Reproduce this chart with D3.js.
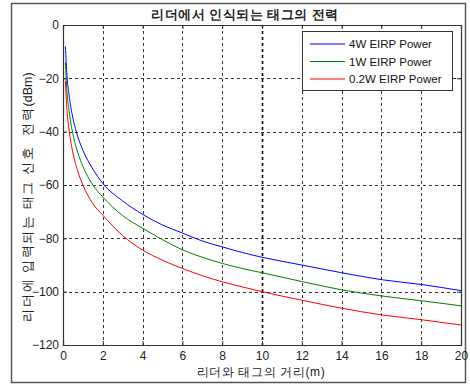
<!DOCTYPE html>
<html>
<head>
<meta charset="utf-8">
<script src="https://cdn.jsdelivr.net/npm/d3@7"></script>
<style>
  body { margin: 0; background: #fff; }
  text { font-family: "Liberation Sans", Arial, sans-serif; }
</style>
</head>
<body>
<svg id="chart" width="470" height="386"></svg>
<script>
const title = '리더에서 인식되는 태그의 전력';
const xLabel = '리더와 태그의 거리(m)';
const yLabelKo = '리더에 입력되는 태그 신호  전력';
const yLabelUnit = '(dBm)';

// distance (m)
const distance = [0.12, 0.2, 0.3, 0.5, 0.75, 1, 1.5, 2, 3, 4, 5, 6, 7, 8, 9, 10, 12, 14, 16, 18, 20];
// received power (dBm)
const power4W  = [-8, -19, -26, -35, -42, -47, -54, -59.4, -66, -71, -75, -78, -81, -83.2, -85.3, -87.1, -90, -92.9, -95.5, -97.3, -99.6];
const power1W  = [-14, -25, -32, -41, -48, -53, -60, -64.5, -71.5, -76.2, -80.5, -84.3, -87.1, -89.4, -91.3, -92.9, -96.2, -99.3, -101.6, -103.4, -105.3];
const power02W = [-21, -32, -39, -48, -55, -60, -67, -71.3, -79, -84.4, -88.2, -91.3, -94, -96.3, -98.2, -100, -103.2, -106.2, -108.7, -110.5, -112.5];

const seriesNames = ['4W EIRP Power', '1W EIRP Power', '0.2W EIRP Power'];
const seriesColors = ['#0000ff', '#008000', '#ff0000'];

const xTicks = [0, 2, 4, 6, 8, 10, 12, 14, 16, 18, 20];
const yTicks = [0, -20, -40, -60, -80, -100, -120];

function draw() {
  const svg = d3.select('#chart');

  // outer frame
  svg.append('rect')
    .attr('x', 11.5).attr('y', 3.5)
    .attr('width', 454).attr('height', 379)
    .attr('fill', '#fff')
    .attr('stroke', '#555').attr('stroke-width', 1.5);

  const left = 63, right = 461, top = 25, bottom = 345;
  const x = d3.scaleLinear().domain([0, 20]).range([left, right]);
  const y = d3.scaleLinear().domain([-120, 0]).range([bottom, top]);

  svg.append('rect')
    .attr('x', left).attr('y', top)
    .attr('width', right - left).attr('height', bottom - top)
    .attr('fill', '#fff');

  // grid
  const grid = svg.append('g').attr('stroke', '#000').attr('stroke-dasharray', '3,3');
  grid.selectAll('.vg').data(xTicks.slice(1, -1)).join('line')
    .attr('x1', d => Math.round(x(d)) + 0.5).attr('x2', d => Math.round(x(d)) + 0.5)
    .attr('y1', top).attr('y2', bottom)
    .attr('stroke-width', d => d === 10 ? 1.6 : 0.8);
  grid.selectAll('.hg').data(yTicks.slice(1, -1)).join('line')
    .attr('x1', left).attr('x2', right)
    .attr('y1', d => Math.round(y(d)) + 0.5).attr('y2', d => Math.round(y(d)) + 0.5)
    .attr('stroke-width', 0.8);

  // curves
  const allSeries = [power4W, power1W, power02W];
  const line = d3.line()
    .x((d, i) => x(distance[i]))
    .y(d => y(d))
    .curve(d3.curveMonotoneX);
  svg.append('g').selectAll('path').data(allSeries).join('path')
    .attr('d', d => line(d))
    .attr('fill', 'none')
    .attr('stroke', (d, i) => seriesColors[i])
    .attr('stroke-width', 1);

  // axes
  const axisColor = '#333';
  const xAxis = svg.append('g')
    .attr('transform', `translate(0,${bottom})`)
    .call(d3.axisBottom(x).tickValues(xTicks).tickSize(-4).tickPadding(6).tickFormat(d3.format('d')));
  const xAxisTop = svg.append('g')
    .attr('transform', `translate(0,${top})`)
    .call(d3.axisTop(x).tickValues(xTicks).tickSize(-4).tickFormat(''));
  const yAxis = svg.append('g')
    .attr('transform', `translate(${left},0)`)
    .call(d3.axisLeft(y).tickValues(yTicks).tickSize(-4).tickPadding(6).tickFormat(d3.format('d')));
  const yAxisRight = svg.append('g')
    .attr('transform', `translate(${right},0)`)
    .call(d3.axisRight(y).tickValues(yTicks).tickSize(-4).tickFormat(''));

  [xAxis, xAxisTop, yAxis, yAxisRight].forEach(g => {
    g.select('.domain').attr('stroke', axisColor).attr('stroke-width', 1.2);
    g.selectAll('.tick line').attr('stroke', axisColor);
    g.selectAll('text').attr('font-size', 12).attr('fill', '#222')
      .attr('font-family', '"Liberation Sans", Arial, sans-serif');
  });
  yAxis.selectAll('.tick text').attr('dy', '0.32em').attr('x', -4);

  // legend
  const legend = svg.append('g');
  legend.append('rect')
    .attr('x', 302.5).attr('y', 31.5).attr('width', 150).attr('height', 59)
    .attr('fill', '#fff').attr('stroke', '#333').attr('stroke-width', 1);
  const rows = legend.selectAll('.row').data(seriesNames).join('g')
    .attr('transform', (d, i) => `translate(0,${44 + i * 17.5})`);
  rows.append('line')
    .attr('x1', 310).attr('x2', 345).attr('y1', 0).attr('y2', 0)
    .attr('stroke', (d, i) => seriesColors[i]).attr('stroke-width', 1);
  rows.append('text')
    .attr('x', 349).attr('y', 0).attr('dy', '0.35em')
    .attr('font-size', 11.5).attr('fill', '#111')
    .text(d => d);

  // labels
  svg.append('text')
    .attr('x', 245).attr('y', 19)
    .attr('text-anchor', 'middle')
    .attr('font-size', 12.5).attr('font-weight', 'bold')
    .attr('font-family', '"Noto Sans CJK KR", sans-serif')
    .attr('letter-spacing', 0.5)
    .attr('fill', '#222')
    .text(title);

  svg.append('text')
    .attr('x', 261).attr('y', 376)
    .attr('text-anchor', 'middle')
    .attr('font-size', 12)
    .attr('font-family', '"Noto Sans CJK KR", sans-serif')
    .attr('letter-spacing', 0.6)
    .attr('fill', '#222')
    .text(xLabel);

  const yl = svg.append('text')
    .attr('transform', 'translate(32,197) rotate(-90)')
    .attr('text-anchor', 'middle')
    .attr('font-size', 12.5)
    .attr('font-family', '"Noto Sans CJK KR", sans-serif')
    .style('white-space', 'pre')
    .attr('fill', '#222');
  yl.append('tspan').attr('letter-spacing', 1.6).text(yLabelKo);
  yl.append('tspan').attr('letter-spacing', 0).text(yLabelUnit);
}

window.onload = draw;
</script>
</body>
</html>
